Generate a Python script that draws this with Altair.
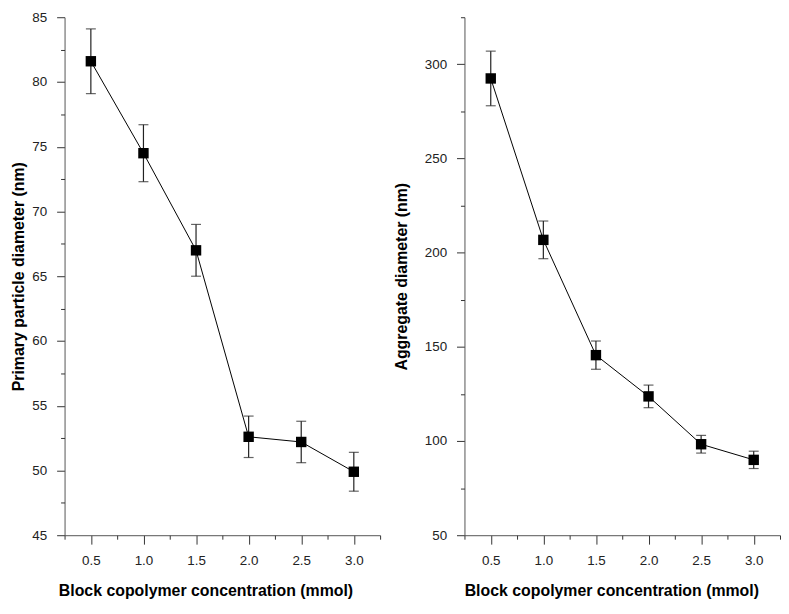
import altair as alt
import pandas as pd

# concentration (mmol)
conc = [0.5, 1.0, 1.5, 2.0, 2.5, 3.0]
# left panel: primary particle diameter (nm) and error
primary = [81.6, 74.5, 67.0, 52.6, 52.2, 49.9]
primary_err = [2.5, 2.2, 2.0, 1.6, 1.6, 1.5]
# right panel: aggregate diameter (nm) and error
aggregate = [292.5, 206.8, 145.6, 123.7, 98.3, 90.0]
aggregate_err = [14.5, 10.0, 7.5, 6.0, 4.7, 4.6]

x_major = [0.5, 1.0, 1.5, 2.0, 2.5, 3.0]
x_minor = [0.25, 0.75, 1.25, 1.75, 2.25, 2.75, 3.25]
left_y_major = [45, 50, 55, 60, 65, 70, 75, 80, 85]
left_y_minor = [47.5, 52.5, 57.5, 62.5, 67.5, 72.5, 77.5, 82.5]
right_y_major = [50, 100, 150, 200, 250, 300]
right_y_minor = [75, 125, 175, 225, 275, 325]

FONT = "Liberation Sans"
X_TITLE = "Block copolymer concentration (mmol)"


def panel(vals, errs, ydomain, ymajor, yminor, ytitle, xtitle_x, ytitle_x):
    df = pd.DataFrame({
        "x": conc,
        "y": vals,
        "lo": [v - e for v, e in zip(vals, errs)],
        "hi": [v + e for v, e in zip(vals, errs)],
    })
    xscale = alt.Scale(domain=[0.25, 3.25], nice=False, zero=False)
    yscale = alt.Scale(domain=ydomain, nice=False, zero=False)
    xaxis = alt.Axis(
        values=x_major, format=".1f", tickSize=9, labelPadding=10, grid=False,
        title=X_TITLE, titleX=xtitle_x, titleY=56, titleBaseline="middle",
        labelOverlap=False, labelFlush=False, orient="bottom",
    )
    yaxis = alt.Axis(
        values=ymajor, format="d", tickSize=8, labelPadding=10, grid=False,
        title=ytitle, titleX=ytitle_x, titleBaseline="middle",
        labelOverlap=False, labelFlush=False, orient="left",
    )
    xminor_axis = alt.Axis(values=x_minor, tickSize=4, labels=False, domain=False,
                           grid=False, title=None, orient="bottom")
    yminor_axis = alt.Axis(values=yminor, tickSize=4, labels=False, domain=False,
                           grid=False, title=None, orient="left")
    base = alt.Chart(df)
    line = base.mark_line(color="black", strokeWidth=1).encode(
        x=alt.X("x:Q", scale=xscale, axis=xaxis),
        y=alt.Y("y:Q", scale=yscale, axis=yaxis))
    rule = base.mark_rule(color="#222", strokeWidth=1.2).encode(
        x="x:Q", y="lo:Q", y2="hi:Q")
    cap_hi = base.mark_tick(orient="horizontal", size=10, thickness=1.2, color="#222").encode(
        x="x:Q", y="hi:Q")
    cap_lo = base.mark_tick(orient="horizontal", size=10, thickness=1.2, color="#222").encode(
        x="x:Q", y="lo:Q")
    pts = base.mark_square(size=110, color="black", opacity=1, filled=True).encode(
        x="x:Q", y="y:Q")
    main = alt.layer(line, rule, cap_hi, cap_lo, pts)
    minor = base.mark_point(opacity=0).encode(
        x=alt.X("x:Q", scale=xscale, axis=xminor_axis),
        y=alt.Y("y:Q", scale=yscale, axis=yminor_axis))
    return alt.layer(main, minor).resolve_axis(x="independent", y="independent").properties(
        width=318, height=522)


left = panel(primary, primary_err, [45, 85], left_y_major, left_y_minor,
             "Primary particle diameter (nm)", 142, -46)
right = panel(aggregate, aggregate_err, [50, 325], right_y_major, right_y_minor,
              "Aggregate diameter (nm)", 148, -63)

chart = alt.hconcat(left, right, spacing=13).properties(
    padding={"left": 3, "top": 0, "right": 0, "bottom": 0}
).configure_view(stroke=None).configure_axis(
    labelFont=FONT,
    titleFont=FONT,
    labelFontSize=13.5,
    titleFontSize=16,
    titleFontWeight="bold",
    labelColor="#222",
    titleColor="black",
    domainColor="#555",
    tickColor="#333",
    domainWidth=1,
    tickWidth=1,
)

chart.save("out.html", embed_options={"renderer": "svg", "actions": False})
